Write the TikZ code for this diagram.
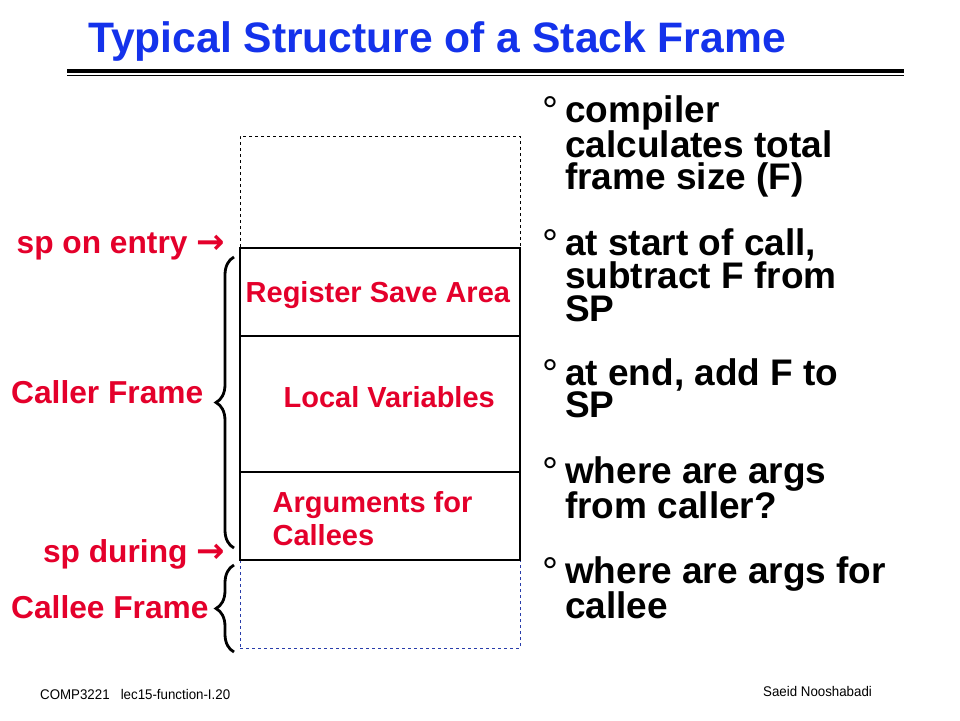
\documentclass[tikz,border=0pt]{standalone}
\usepackage{fontspec}
\setmainfont{Liberation Sans}
\newfontfamily\arrowfont{DejaVu Sans}
\newfontfamily\footfont[FakeStretch=0.95]{Liberation Sans}
\usetikzlibrary{positioning,calc,decorations.pathreplacing}
\tikzset{>=stealth}
\definecolor{slidered}{RGB}{228,0,43}
\definecolor{slideblue}{RGB}{20,50,235}
\definecolor{calleeblue}{RGB}{40,60,170}
\newcommand*{\fs}[2]{\fontsize{#1}{#2}\selectfont}
\newcommand*{\tight}{\lineskiplimit=-20pt\relax}
\newcommand*{\spto}{{\arrowfont\fs{34}{34}→}}

\begin{document}
\begin{tikzpicture}[x=1pt,y=-1pt,
  lbl/.style={text=slidered,font=\bfseries\fs{31.7}{33},inner sep=0pt},
  boxlbl/.style={text=slidered,font=\bfseries\fs{29}{33}\tight,inner sep=0pt,anchor=base west},
  pt/.style={font=\bfseries\fs{37}{32.5}\tight,inner sep=0pt,anchor=base west},
  bul/.style={font=\fs{40}{40},inner sep=0pt},
  slot/.style={draw,line width=1.2pt,minimum width=280pt,inner sep=0pt},
  brace/.style={decorate,decoration={brace,amplitude=18pt},line width=2.8pt},
  foot/.style={font=\footfont\fs{14}{14},inner sep=0pt,anchor=base west}]
\useasboundingbox (0,0) rectangle (960,720);
\fill[white] (0,0) rectangle (960,720);
% title and rules
\node[text=slideblue,font=\bfseries\fs{42.6}{42},inner sep=0pt,anchor=base west] (title) at (88,52) {Typical Structure of a Stack Frame};
\draw[line width=3.5pt] (67,71) -- (904,71);
\draw[line width=1.2pt] (67,75.5) -- (904,75.5);
% the stack
\node[slot,dashed,line width=0.9pt,minimum height=112pt] (above) at (380,192) {};
\node[slot,dashed,draw=calleeblue,line width=0.9pt,minimum height=88pt] (calleebox) at (380,604) {};
\node[slot,minimum height=88pt] (regs) at (380,292) {};
\node[slot,minimum height=136pt] (locals) at (380,404) {};
\node[slot,minimum height=88pt] (args) at (380,516) {};
\node[boxlbl] (regtxt) at (245.5,302) {Register Save Area};
\node[boxlbl] (loctxt) at (283.4,407) {Local Variables};
\node[boxlbl] (argtxt) at (272.4,512) {\parbox[t]{240pt}{Arguments for\\Callees}};
% left labels
\node[lbl,anchor=base east] (entry) at (225,253) {sp on entry \spto};
\node[lbl,anchor=base west] (caller) at (11,403) {Caller Frame};
\node[lbl,anchor=base east] (during) at (225,562) {sp during \spto};
\node[lbl,anchor=base west] (callee) at (11,618) {Callee Frame};
\coordinate (cla) at (234,548);
\coordinate (clb) at (234,257);
\coordinate (cea) at (234,652);
\coordinate (ceb) at (234,565);
\draw[brace] (cla) -- (clb);
\draw[brace] (cea) -- (ceb);
% points on the right
\node[pt] (p1) at (565,122) {\parbox[t]{380pt}{compiler\\calculates total\\frame size (F)}};
\node[pt] (p2) at (565,255) {\parbox[t]{380pt}{at start of call,\\subtract F from\\SP}};
\node[pt] (p3) at (565,385) {\parbox[t]{380pt}{at end, add F to\\SP}};
\node[pt] (p4) at (565,483) {\parbox[t]{380pt}{where are args\\from caller?}};
\node[pt] (p5) at (565,583) {\parbox[t]{380pt}{where are args for\\callee}};
\node[bul] (b1) at (550,111) {°};
\node[bul] (b2) at (550,244) {°};
\node[bul] (b3) at (550,374) {°};
\node[bul] (b4) at (550,472) {°};
\node[bul] (b5) at (550,572) {°};
% footer
\node[foot] (course) at (40,699) {COMP3221\ \ \ lec15-function-I.20};
\node[foot] (author) at (763,696) {Saeid Nooshabadi};
\end{tikzpicture}
\end{document}
